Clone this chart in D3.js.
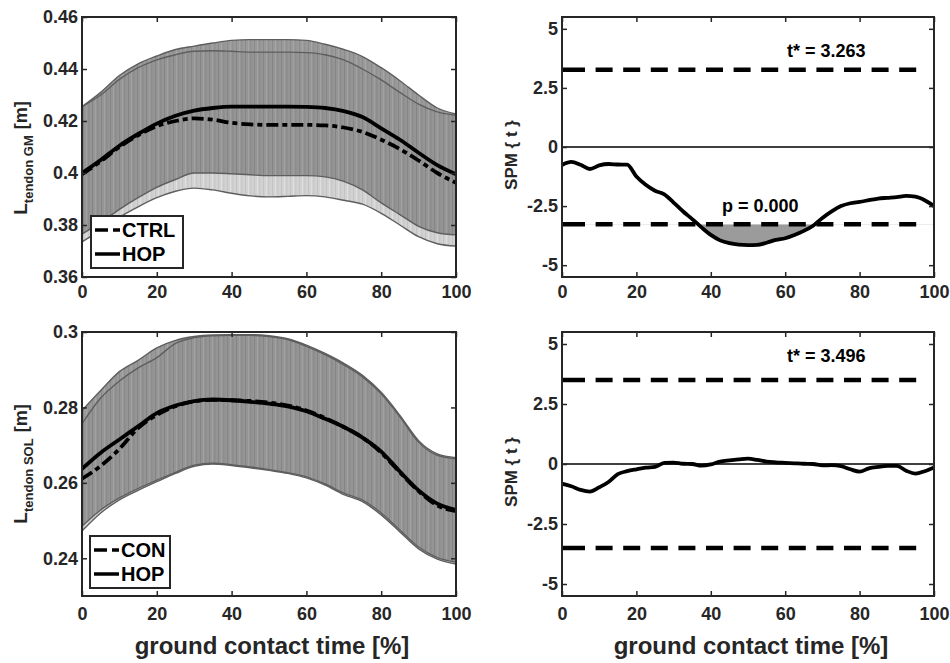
<!DOCTYPE html>
<html>
<head>
<meta charset="utf-8">
<script src="https://cdn.jsdelivr.net/npm/d3@7/dist/d3.min.js"></script>
<style>
  body { margin: 0; background: #fff; }
  svg { display: block; font-family: "Liberation Sans", Arial, sans-serif; font-weight: bold; }
</style>
</head>
<body>
<svg width="950" height="663"></svg>
<script>
// ---- data ----
const pct = [0, 5, 10, 15, 20, 25, 30, 35, 40, 45, 50, 55, 60, 65, 70, 75, 80, 85, 90, 95, 100];

// tendon GM length [m]
const gmHopMean = [0.4000, 0.4050, 0.4105, 0.4150, 0.4190, 0.4220, 0.4240, 0.4250, 0.4255, 0.4255, 0.4255, 0.4255, 0.4254, 0.4250, 0.4238, 0.4215, 0.4172, 0.4128, 0.4078, 0.4030, 0.3995];
const gmCtrlMean = [0.3995, 0.4045, 0.4100, 0.4145, 0.4180, 0.4200, 0.4210, 0.4205, 0.4193, 0.4187, 0.4185, 0.4185, 0.4185, 0.4183, 0.4175, 0.4158, 0.4128, 0.4092, 0.4048, 0.4000, 0.3962];
const gmHopUp = [0.4255, 0.4310, 0.4375, 0.4420, 0.4450, 0.4475, 0.4488, 0.4500, 0.4510, 0.4513, 0.4513, 0.4513, 0.4510, 0.4495, 0.4475, 0.4448, 0.4405, 0.4355, 0.4300, 0.4250, 0.4227];
const gmHopLo = [0.3765, 0.3810, 0.3860, 0.3905, 0.3945, 0.3975, 0.4000, 0.4000, 0.3997, 0.3993, 0.3990, 0.3990, 0.3990, 0.3985, 0.3968, 0.3935, 0.3885, 0.3840, 0.3795, 0.3770, 0.3762];
const gmCtrlUp = [0.4255, 0.4300, 0.4360, 0.4405, 0.4435, 0.4455, 0.4468, 0.4470, 0.4468, 0.4465, 0.4465, 0.4465, 0.4463, 0.4455, 0.4435, 0.4400, 0.4358, 0.4310, 0.4265, 0.4235, 0.4222];
const gmCtrlLo = [0.3735, 0.3780, 0.3830, 0.3870, 0.3905, 0.3930, 0.3942, 0.3935, 0.3922, 0.3912, 0.3908, 0.3910, 0.3913, 0.3908, 0.3895, 0.3880, 0.3845, 0.3800, 0.3755, 0.3728, 0.3719];

// tendon SOL length [m]
const solHopMean = [0.2637, 0.2680, 0.2715, 0.2750, 0.2785, 0.2805, 0.2817, 0.2821, 0.2819, 0.2815, 0.2810, 0.2803, 0.2790, 0.2770, 0.2748, 0.2720, 0.2683, 0.2630, 0.2580, 0.2545, 0.2528];
const solConMean = [0.2611, 0.2645, 0.2690, 0.2745, 0.2780, 0.2803, 0.2816, 0.2820, 0.2819, 0.2817, 0.2813, 0.2805, 0.2792, 0.2772, 0.2748, 0.2720, 0.2680, 0.2628, 0.2578, 0.2540, 0.2525];
const solHopUp = [0.2792, 0.2845, 0.2895, 0.2925, 0.2958, 0.2978, 0.2988, 0.2992, 0.2993, 0.2993, 0.2990, 0.2982, 0.2965, 0.2943, 0.2917, 0.2885, 0.2840, 0.2779, 0.2712, 0.2677, 0.2667];
const solHopLo = [0.2485, 0.2528, 0.2560, 0.2585, 0.2607, 0.2628, 0.2647, 0.2652, 0.2648, 0.2642, 0.2635, 0.2627, 0.2616, 0.2597, 0.2573, 0.2554, 0.2520, 0.2475, 0.2430, 0.2402, 0.2390];
const solConUp = [0.2757, 0.2825, 0.2870, 0.2905, 0.2932, 0.2970, 0.2985, 0.2990, 0.2991, 0.2991, 0.2988, 0.2980, 0.2962, 0.2940, 0.2913, 0.2881, 0.2836, 0.2775, 0.2708, 0.2673, 0.2664];
const solConLo = [0.2472, 0.2520, 0.2555, 0.2580, 0.2603, 0.2625, 0.2644, 0.2650, 0.2646, 0.2640, 0.2633, 0.2625, 0.2613, 0.2594, 0.2569, 0.2550, 0.2515, 0.2470, 0.2425, 0.2398, 0.2385];

// SPM{t} curves
const pctSpm = [0, 2.5, 5, 7.5, 10, 12.5, 15, 17.5, 20, 22.5, 25, 27.5, 30, 32.5, 35, 37.5, 40, 42.5, 45, 47.5, 50,
                52.5, 55, 57.5, 60, 62.5, 65, 67.5, 70, 72.5, 75, 77.5, 80, 82.5, 85, 87.5, 90, 92.5, 95, 97.5, 100];
const spmGM = [-0.76, -0.63, -0.75, -0.93, -0.78, -0.72, -0.74, -0.75, -1.25, -1.60, -1.85, -2.00, -2.35, -2.72, -3.05, -3.40, -3.72, -3.95, -4.07, -4.13, -4.15,
               -4.14, -4.05, -3.93, -3.86, -3.72, -3.55, -3.33, -3.00, -2.72, -2.50, -2.38, -2.32, -2.25, -2.18, -2.15, -2.12, -2.07, -2.10, -2.25, -2.50];
const spmSOL = [-0.82, -0.93, -1.08, -1.15, -0.97, -0.75, -0.42, -0.30, -0.22, -0.15, -0.12, 0.05, 0.06, 0.01, 0.00, -0.07, -0.02, 0.10, 0.15, 0.19, 0.22,
                0.17, 0.10, 0.07, 0.05, 0.03, 0.01, 0.00, -0.06, -0.05, -0.09, -0.22, -0.32, -0.18, -0.12, -0.08, -0.08, -0.28, -0.40, -0.30, -0.14];
const tCritGM = 3.263;
const tCritSOL = 3.496;
const pGM = "0.000";

const xTicks = [0, 20, 40, 60, 80, 100];
const gmTicks = [0.36, 0.38, 0.40, 0.42, 0.44, 0.46];
const solTicks = [0.24, 0.26, 0.28, 0.30];
const spmTicks = [-5, -2.5, 0, 2.5, 5];

// ---- drawing ----
const svg = d3.select("svg");
const ink = "#262626";
let clipN = 0;

const defs = svg.append("defs");
function stripes(id, base, a, b) {
  const p = defs.append("pattern").attr("id", id).attr("patternUnits", "userSpaceOnUse")
    .attr("width", 9).attr("height", 10);
  p.append("rect").attr("width", 9).attr("height", 10).attr("fill", base);
  p.append("rect").attr("x", 1).attr("width", 1).attr("height", 10).attr("fill", a);
  p.append("rect").attr("x", 4).attr("width", 1).attr("height", 10).attr("fill", b);
  p.append("rect").attr("x", 6.5).attr("width", 0.8).attr("height", 10).attr("fill", a);
}
stripes("darkFill", "#8c8c8c", "#7b7b7b", "#999999");
stripes("lightFill", "#d2d2d2", "#c3c3c3", "#dedede");

function panel(box, yDomain, yTicks, xPad) {
  const g = svg.append("g").attr("transform", `translate(${box.x},${box.y})`);
  const x = d3.scaleLinear().domain([0, 100]).range([0, box.w]);
  const y = d3.scaleLinear().domain(yDomain).range([box.h, 0]);
  const id = "clip" + (clipN++);
  g.append("clipPath").attr("id", id).append("rect").attr("width", box.w).attr("height", box.h);
  const plot = g.append("g").attr("clip-path", `url(#${id})`);
  return { g, plot, x, y, box, yTicks, xPad };
}

function axes(p) {
  const fmt = d => String(+d.toFixed(2));
  const style = sel => {
    sel.select(".domain").remove();
    sel.selectAll("line").attr("stroke", ink).attr("stroke-width", 1.5);
    sel.selectAll("text").attr("fill", ink).attr("font-size", 18)
      .attr("font-family", null).attr("font-weight", "bold");
  };
  p.g.append("g").call(d3.axisLeft(p.y).tickValues(p.yTicks).tickFormat(fmt)
    .tickSizeInner(-5).tickSizeOuter(0).tickPadding(4)).call(style);
  p.g.append("g").attr("transform", `translate(${p.box.w},0)`)
    .call(d3.axisRight(p.y).tickValues(p.yTicks).tickFormat("").tickSizeInner(-5).tickSizeOuter(0)).call(style);
  p.g.append("g").attr("transform", `translate(0,${p.box.h})`)
    .call(d3.axisBottom(p.x).tickValues(xTicks).tickFormat(d3.format("d"))
      .tickSizeInner(-5).tickSizeOuter(0).tickPadding(p.xPad)).call(style);
  p.g.append("g")
    .call(d3.axisTop(p.x).tickValues(xTicks).tickFormat("").tickSizeInner(-5).tickSizeOuter(0)).call(style);
  p.g.append("rect").attr("width", p.box.w).attr("height", p.box.h)
    .attr("fill", "none").attr("stroke", ink).attr("stroke-width", 2);
}

function band(p, up, lo, fill, opacity) {
  const area = d3.area().curve(d3.curveMonotoneX)
    .x((d, i) => p.x(pct[i])).y0((d, i) => p.y(lo[i])).y1(d => p.y(d));
  p.plot.append("path").attr("d", area(up)).attr("fill", fill).attr("fill-opacity", opacity);
}

function edge(p, vals) {
  const line = d3.line().curve(d3.curveMonotoneX).x((d, i) => p.x(pct[i])).y(d => p.y(d));
  p.plot.append("path").attr("d", line(vals)).attr("fill", "none")
    .attr("stroke", "#5e5e5e").attr("stroke-width", 1.4);
}

function meanLine(p, vals, dash) {
  const line = d3.line().curve(d3.curveMonotoneX).x((d, i) => p.x(pct[i])).y(d => p.y(d));
  p.plot.append("path").attr("d", line(vals)).attr("fill", "none")
    .attr("stroke", "#000").attr("stroke-width", 3.8)
    .attr("stroke-dasharray", dash);
}

function legend(p, bx, by, w, labels) {
  const lg = p.g.append("g").attr("transform", `translate(${bx},${by})`);
  lg.append("rect").attr("width", w).attr("height", 52).attr("fill", "#fff")
    .attr("stroke", ink).attr("stroke-width", 2);
  labels.forEach((l, i) => {
    const cy = 14 + i * 24;
    lg.append("line").attr("x1", 4).attr("x2", 29).attr("y1", cy).attr("y2", cy)
      .attr("stroke", "#000").attr("stroke-width", 3.5).attr("stroke-dasharray", l.dash);
    lg.append("text").attr("x", 31).attr("y", cy + 7).attr("font-size", 20).attr("fill", "#000").text(l.name);
  });
}

function lengthLabel(p, cx, cy, sub) {
  const t = svg.append("text").attr("transform", `translate(${cx},${cy}) rotate(-90)`)
    .attr("text-anchor", "middle").attr("fill", ink);
  t.append("tspan").attr("font-size", 19).text("L");
  t.append("tspan").attr("font-size", 13).attr("dy", 6).text("tendon " + sub);
  t.append("tspan").attr("font-size", 18).attr("dy", -6).attr("dx", 6).text("[m]");
}

// threshold dash pattern: a longer first dash, then regular dashes up to ~95 %
const thrDash = [23].concat(d3.range(12).flatMap(() => [10.6, 17])).concat([400]).join(",");

function spmPanel(p, vals, tCrit, tLabelY, pVal) {
  const line = d3.line().curve(d3.curveMonotoneX).x((d, i) => p.x(pctSpm[i])).y(d => p.y(d));
  if (pVal) {
    const id = "clip" + (clipN++);
    p.g.append("clipPath").attr("id", id).append("rect")
      .attr("y", p.y(-tCrit)).attr("width", p.box.w).attr("height", p.box.h - p.y(-tCrit));
    const area = d3.area().curve(d3.curveMonotoneX)
      .x((d, i) => p.x(pctSpm[i])).y0(() => p.y(-tCrit)).y1(d => p.y(d));
    p.plot.append("path").attr("clip-path", `url(#${id})`).attr("d", area(vals)).attr("fill", "#9b9b9b");
    p.plot.append("text").attr("x", p.x(43)).attr("y", p.y(-2.75)).attr("font-size", 18)
      .attr("fill", "#000").text("p = " + pVal);
  }
  p.plot.append("line").attr("x1", p.x(0)).attr("x2", p.x(100)).attr("y1", p.y(0)).attr("y2", p.y(0))
    .attr("stroke", "#000").attr("stroke-width", 1.5);
  [tCrit, -tCrit].forEach(t => {
    p.plot.append("line").attr("x1", p.x(0)).attr("x2", p.x(100)).attr("y1", p.y(t)).attr("y2", p.y(t))
      .attr("stroke", "#000").attr("stroke-width", 4.5).attr("stroke-dasharray", thrDash);
  });
  p.plot.append("path").attr("d", line(vals)).attr("fill", "none")
    .attr("stroke", "#000").attr("stroke-width", 3.8);
  p.plot.append("text").attr("x", p.x(60.5)).attr("y", p.y(tLabelY)).attr("font-size", 18)
    .attr("fill", "#000").text("t* = " + tCrit.toFixed(3));
  const c = p.box;
  svg.append("text").attr("transform", `translate(${c.x - 45},${c.y + c.h / 2 + 8}) rotate(-90)`)
    .attr("text-anchor", "middle").attr("font-size", 17).attr("fill", ink).text("SPM { t }");
}

// panels
const gm = panel({ x: 82, y: 17, w: 374, h: 260 }, [0.36, 0.46], gmTicks, 8);
band(gm, gmCtrlUp, gmCtrlLo, "url(#lightFill)", 1);
band(gm, gmHopUp, gmHopLo, "url(#darkFill)", 0.88);
[gmHopUp, gmHopLo, gmCtrlUp, gmCtrlLo].forEach(v => edge(gm, v));
meanLine(gm, gmCtrlMean, "12,4,5,4");
meanLine(gm, gmHopMean, null);
axes(gm);
legend(gm, 9, 199, 92, [{ name: "CTRL", dash: "13,5,7,5" }, { name: "HOP", dash: null }]);
lengthLabel(gm, 27, 158, "GM");

const sol = panel({ x: 82, y: 332, w: 374, h: 264 }, [0.23, 0.30], solTicks, 11);
band(sol, solConUp, solConLo, "url(#lightFill)", 1);
band(sol, solHopUp, solHopLo, "url(#darkFill)", 0.88);
[solHopUp, solHopLo, solConUp, solConLo].forEach(v => edge(sol, v));
meanLine(sol, solConMean, "12,4,5,4");
meanLine(sol, solHopMean, null);
axes(sol);
legend(sol, 8, 204, 80, [{ name: "CON", dash: "13,5,7,5" }, { name: "HOP", dash: null }]);
lengthLabel(sol, 27, 464, "SOL");

const spm1 = panel({ x: 562, y: 17, w: 372, h: 260 }, [-5.5, 5.5], spmTicks, 8);
spmPanel(spm1, spmGM, tCritGM, 3.81, pGM);
axes(spm1);

const spm2 = panel({ x: 562, y: 332, w: 372, h: 264 }, [-5.5, 5.5], spmTicks, 11);
spmPanel(spm2, spmSOL, tCritSOL, 4.25, null);
axes(spm2);

// x axis titles
[gm, spm2].forEach(p => {
  svg.append("text").attr("x", p.box.x + p.box.w / 2 + 3).attr("y", 654)
    .attr("text-anchor", "middle").attr("font-size", 24).attr("fill", ink)
    .text("ground contact time [%]");
});
</script>
</body>
</html>
